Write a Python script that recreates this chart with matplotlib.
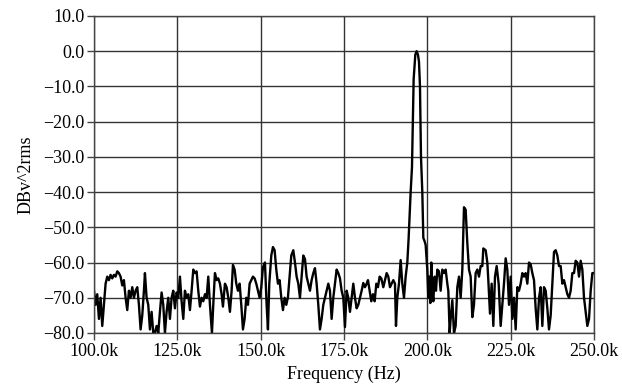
import matplotlib
matplotlib.use("Agg")
import matplotlib.pyplot as plt
from matplotlib.ticker import FuncFormatter

plt.rcParams['font.family'] = ['Liberation Serif', 'DejaVu Serif']
plt.rcParams['axes.unicode_minus'] = True

# frequency in kHz, level in dB
freq_khz = [
    100.0, 100.5, 101.0, 101.5, 102.0, 102.5, 103.0, 103.5, 104.0, 104.5,
    105.0, 105.5, 106.0, 106.5, 107.0, 107.5, 108.0, 108.5, 109.0, 109.5,
    110.0, 110.5, 111.0, 111.5, 112.0, 112.5, 113.0, 113.5, 114.0, 114.5,
    115.0, 115.3, 115.8, 116.3, 116.8, 117.3, 117.8, 118.3, 118.8, 119.3,
    119.8, 120.3, 120.8, 121.3, 121.8, 122.3, 122.8, 123.3, 123.8, 124.3,
    124.8, 125.3, 125.8, 126.3, 126.8, 127.3, 127.8, 128.3, 128.8, 129.3,
    129.8, 130.3, 130.8, 131.3, 131.8, 132.3, 132.8, 133.3, 133.8, 134.3,
    134.8, 135.4, 135.9, 136.3, 136.8, 137.3, 137.8, 138.3, 138.7, 139.3,
    139.8, 140.3, 140.8, 141.3, 141.7, 142.2, 142.7, 143.2, 143.7, 144.2,
    144.7, 145.2, 145.7, 146.2, 146.7, 147.2, 147.7, 148.2, 148.7, 149.2,
    149.7, 150.2, 150.7, 151.3, 151.8, 152.2, 152.6, 153.2, 153.7, 154.2,
    154.7, 155.2, 155.7, 156.2, 156.7, 157.2, 157.7, 158.2, 158.7, 159.2,
    159.8, 160.3, 160.8, 161.3, 161.8, 162.3, 162.8, 163.3, 163.8, 164.3,
    164.8, 165.3, 165.8, 166.3, 166.8, 167.3, 167.8, 168.3, 168.8, 169.3,
    169.8, 170.3, 170.8, 171.3, 171.8, 172.3, 172.8, 173.3, 173.8, 174.3,
    174.8, 175.3, 175.8, 176.3, 176.8, 177.3, 177.8, 178.3, 178.8, 179.3,
    179.8, 180.3, 180.8, 181.3, 181.8, 182.2, 182.7, 183.2, 183.7, 184.2,
    184.7, 185.2, 185.7, 186.2, 186.8, 187.3, 187.8, 188.3, 188.8, 189.3,
    189.8, 190.3, 190.6, 191.0, 191.5, 192.0, 192.5, 193.0, 193.5, 194.0,
    194.4, 195.0, 195.4, 195.9, 196.4, 196.8, 197.2, 197.5, 197.8, 198.1,
    198.5, 198.8, 199.2, 199.5, 200.0, 200.3, 200.6, 200.9, 201.2, 201.5,
    201.8, 202.2, 202.6, 203.0, 203.5, 204.0, 204.5, 205.0, 205.5, 206.0,
    206.3, 206.7, 207.0, 207.5, 208.0, 208.5, 209.0, 209.5, 210.0, 210.5,
    211.0, 211.5, 212.0, 212.5, 213.0, 213.5, 214.0, 214.5, 215.0, 215.5,
    216.0, 216.5, 216.8, 217.5, 218.0, 218.3, 218.8, 219.3, 219.8, 220.3,
    220.8, 221.4, 222.0, 222.5, 223.0, 223.5, 224.0, 224.5, 225.0, 225.5,
    226.0, 226.5, 227.0, 227.5, 228.0, 228.5, 229.0, 229.5, 230.0, 230.5,
    231.0, 231.5, 232.0, 232.5, 233.0, 233.5, 234.0, 234.5, 235.0, 235.5,
    236.0, 236.5, 237.0, 237.5, 238.0, 238.5, 239.0, 239.5, 240.0, 240.5,
    241.0, 241.5, 242.0, 242.5, 243.0, 243.5, 244.0, 244.5, 245.0, 245.5,
    246.0, 246.5, 247.0, 247.5, 248.0, 248.5, 249.0, 249.5, 250.0,
]
level_db = [
    -68, -72, -69, -76, -70, -78, -72, -66, -64, -65,
    -63.5, -64.5, -63.5, -64, -62.5, -63, -64, -66.5, -65, -70,
    -73.5, -68, -70, -67, -70, -68, -67, -72, -79, -75,
    -68, -63, -70, -72, -79, -74, -80, -80, -78, -80,
    -74, -68.5, -72, -80, -74, -70, -76, -70, -68, -73,
    -68.5, -70, -64, -71, -76, -68, -70, -69, -73.5, -68,
    -62, -63, -62.5, -68, -72.5, -70, -71, -69, -70, -64,
    -72, -80, -70, -63, -65, -64.5, -66, -69, -72.5, -66,
    -67, -70, -74, -68, -60.7, -62, -66, -68, -66, -72,
    -79, -76, -70, -72, -66, -65, -64, -64.5, -66, -68,
    -70, -67, -61.3, -60, -72, -79, -66, -58, -55.6, -56.5,
    -62, -66, -65, -70, -73.5, -70, -72, -69.8, -64, -58,
    -56.5, -60, -64, -66, -70, -64, -58, -59, -64, -66,
    -68, -65, -63, -61.6, -66, -72, -79, -76, -72, -70,
    -68, -66, -68, -76, -70, -66, -62, -63, -64.5, -68,
    -70, -78.3, -68, -70, -74, -70, -66, -70, -73, -72,
    -70, -68, -65.8, -67, -66, -65, -68, -71, -69, -71,
    -66, -67, -64, -64.5, -67, -65, -63, -64, -67, -66,
    -65, -66, -78, -70, -66, -59.3, -66, -70, -64, -60,
    -53, -40, -33, -8, -1, 0, -1, -3, -10, -30,
    -40, -53, -54, -55, -62, -70, -64, -71.5, -60, -68,
    -71, -64, -68, -62, -62.5, -68, -62, -63, -62, -66,
    -68, -80, -76, -70.7, -80, -78, -67, -64, -70, -62,
    -44.3, -45, -54.5, -62, -64, -75.5, -72, -63, -62, -64,
    -61, -61, -56, -56.5, -60, -65, -74.5, -66, -78, -64,
    -61, -66, -78, -72, -66, -58.8, -62, -72, -64, -76,
    -70, -79, -67, -68, -66, -63, -64, -63, -66, -60,
    -60.5, -63, -65, -73, -79, -70, -67, -78, -67, -68,
    -73, -79, -75, -66, -57, -56.5, -58, -61, -61, -66,
    -65, -67, -69, -70, -68, -63, -63, -59.5, -60, -64,
    -59.5, -62, -70, -74, -78, -76, -68, -63, -63,
]

x_ticks = [100, 125, 150, 175, 200, 225, 250]
y_ticks = [10, 0, -10, -20, -30, -40, -50, -60, -70, -80]

fig = plt.figure(figsize=(6.22, 3.89), dpi=100)
ax = fig.add_axes([0.151, 0.144, 0.804, 0.815])

ax.plot(freq_khz, level_db, color='black', lw=1.7)

ax.set_xlim(100, 250)
ax.set_ylim(-80, 10)
ax.set_xticks(x_ticks)
ax.set_yticks(y_ticks)
ax.xaxis.set_major_formatter(FuncFormatter(lambda v, p: f"{v:.1f}k"))
ax.yaxis.set_major_formatter(FuncFormatter(lambda v, p: f"{v:.1f}".replace('-', '\u2212')))
ax.grid(True, color='#333333', lw=1.0)
ax.set_axisbelow(True)
ax.tick_params(direction='out', length=5, width=1, labelsize=13, pad=2, color='#444444')
for s in ax.spines.values():
    s.set_color('#444444')
    s.set_linewidth(1.0)

ax.set_xlabel("Frequency (Hz)", fontsize=13, labelpad=4)
ax.set_ylabel("DBv^2rms", fontsize=13, labelpad=6)

fig.savefig("out.png", dpi=100)
